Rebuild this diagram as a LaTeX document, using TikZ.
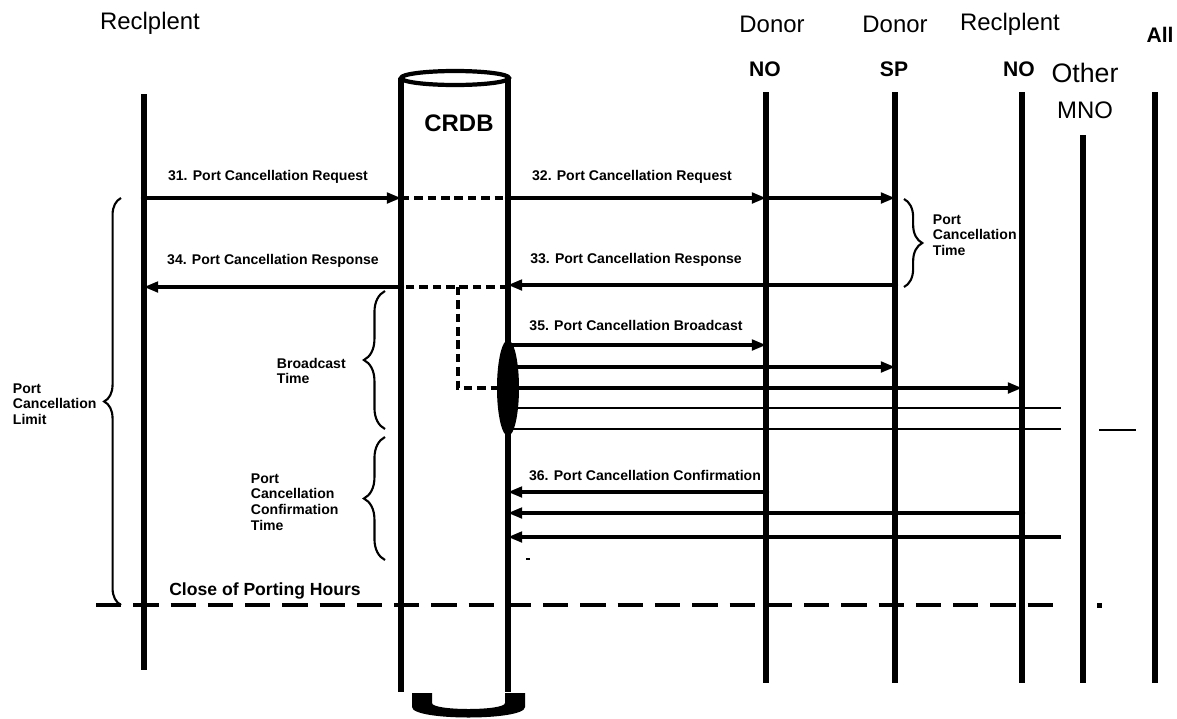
\documentclass[tikz,border=0pt]{standalone}
\usepackage{fontspec}
\setmainfont{Liberation Sans}
\usetikzlibrary{arrows.meta,decorations.pathreplacing}

\tikzset{
  life/.style={line width=3.6pt},
  msg/.style={line width=2.2pt,-{Triangle[length=10pt,width=7.5pt]}},
  bline/.style={line width=2pt},
  dashln/.style={line width=2.2pt,dash pattern=on 6pt off 3.5pt},
  closeln/.style={line width=3.4pt,dash pattern=on 18pt off 8.5pt},
  dot/.style={circle,fill,inner sep=0pt,minimum size=4.5pt},
  lbl/.style={font=\bfseries\fontsize{10}{11}\selectfont},
  blbl/.style={font=\bfseries\fontsize{10}{11.2}\selectfont,align=left,anchor=west},
  head/.style={font=\fontsize{17}{20}\selectfont},
  bhead/.style={font=\bfseries\fontsize{15}{18}\selectfont},
  brc/.style={decorate,decoration={brace,amplitude=#1},line width=1.5pt},
}

\begin{document}
\begin{tikzpicture}[x=0.025cm,y=-0.025cm]
\useasboundingbox (0,0) rectangle (1177,718);

% lifelines
\coordinate (rec) at (144,94);
\coordinate (dbl) at (401,78);
\coordinate (dbr) at (508,78);
\coordinate (dno) at (766,92);
\coordinate (dsp) at (895,92);
\coordinate (rno) at (1022,92);
\coordinate (mno) at (1083,135);
\coordinate (all) at (1155,92);
\coordinate (cut) at (1061,0);
% message rows
\coordinate (r31) at (0,198);
\coordinate (r33) at (0,285);
\coordinate (r34) at (0,287);
\coordinate (b1) at (0,345);
\coordinate (b2) at (0,367);
\coordinate (b3) at (0,388);
\coordinate (b4) at (0,408);
\coordinate (b5) at (0,429);
\coordinate (c1) at (0,492);
\coordinate (c2) at (0,513);
\coordinate (c3) at (0,537);
\coordinate (cls) at (0,605);
\coordinate (split) at (458,287);

% headers
\node[head] (hrec) at (150,23) {Reclplent};
\node[head] (hdno) at (772,24) {Donor};
\node[bhead] (hdno2) at (765,69) {NO};
\node[head] (hdsp) at (895,24) {Donor};
\node[bhead] (hdsp2) at (894,69) {SP};
\node[head] (hrno) at (1010,24) {Reclplent};
\node[bhead] (hrno2) at (1019,69) {NO};
\node[head,font=\fontsize{19}{22}\selectfont] (hmno) at (1085,73) {Other};
\node[head] (hmno2) at (1085,110) {MNO};
\node[bhead] (hall) at (1160,35) {All};

\foreach \l/\e in {rec/670,dno/683,dsp/683,rno/683,mno/683,all/683}
  \draw[life] (\l) -- (\l |- 0,\e);

% CRDB cylinder
\draw[life] (dbl) -- (dbl |- 0,692);
\draw[life] (dbr) -- (dbr |- 0,692);
\draw[line width=3pt,fill=white] (455,78) ellipse [x radius=54, y radius=7];
\node[font=\bfseries\fontsize{17}{20}\selectfont] (crdb) at (459,123) {CRDB};
\fill (412,693) -- (432,693) -- (432,703) .. controls (432,711) and (505,711) .. (505,703)
  -- (505,693) -- (525,693) -- (525,707) .. controls (525,721) and (412,721) .. (412,707) -- cycle;

% 31 / 32
\draw[msg] (rec |- r31) -- (dbl |- r31);
\draw[dashln] (dbl |- r31) -- (dbr |- r31);
\draw[msg] (dbr |- r31) -- (dno |- r31);
\draw[msg] (dno |- r31) -- (dsp |- r31);
\node[dot] at (rec |- r31) {};
\node[dot] at (dbr |- r31) {};
\node[lbl] (l31) at (268,177) {31. Port Cancellation Request};
\node[lbl] (l32) at (632,177) {32. Port Cancellation Request};

% 33 / 34
\draw[msg] (dsp |- r33) -- (dbr |- r33);
\node[dot] at (dsp |- r33) {};
\node[dot] at (dno |- r33) {};
\draw[msg] (dbl |- r34) -- (rec |- r34);
\node[dot] at (dbl |- r34) {};
\draw[dashln] (dbr |- r34) -- (dbl |- r34);
\draw[dashln] (split) |- (dbr |- b3);
\node[lbl] (l33) at (636,260) {33. Port Cancellation Response};
\node[lbl] (l34) at (273,261) {34. Port Cancellation Response};

% 35 broadcast
\fill (dbr |- b3) ellipse [x radius=11, y radius=48];
\draw[msg] (dbr |- b1) -- (dno |- b1);
\draw[msg] (dbr |- b2) -- (dsp |- b2);
\draw[msg] (dbr |- b3) -- (rno |- b3);
\draw[bline] (dbr |- b4) -- (cut |- b4);
\draw[bline] (dbr |- b5) -- (cut |- b5);
\draw[bline] (1099,430) -- (1136,430);
\node[lbl] (l35) at (636,325) {35. Port Cancellation Broadcast};

% 36 confirmation
\draw[msg] (dno |- c1) -- (dbr |- c1);
\node[dot] at (dno |- c1) {};
\draw[msg] (rno |- c2) -- (dbr |- c2);
\node[dot] at (rno |- c2) {};
\draw[msg] (cut |- c3) -- (dbr |- c3);
\node[lbl] (l36) at (645,475) {36. Port Cancellation Confirmation};
\draw[line width=2pt] (526,559) -- (530,559);

% close of porting hours
\draw[closeln] (96,605) -- (cut |- cls);
\fill (1097,603) rectangle (1102,608);
\node[font=\bfseries\fontsize{12.5}{14}\selectfont] (lcls) at (265,591) {Close of Porting Hours};

% braces
\draw[brc=12pt] (121,605) -- (121,198);
\node[blbl] (llim) at (8,404) {Port\\Cancellation\\Limit};
\draw[brc=15pt] (385,429) -- (385,291);
\node[blbl] (lbct) at (272,371) {Broadcast\\Time};
\draw[brc=15pt] (385,560) -- (385,437);
\node[blbl] (lpcct) at (246,502) {Port\\Cancellation\\Confirmation\\Time};
\draw[brc=13pt] (904,199) -- (904,287);
\node[blbl] (lpct) at (928,235) {Port\\Cancellation\\Time};
\end{tikzpicture}
\end{document}
